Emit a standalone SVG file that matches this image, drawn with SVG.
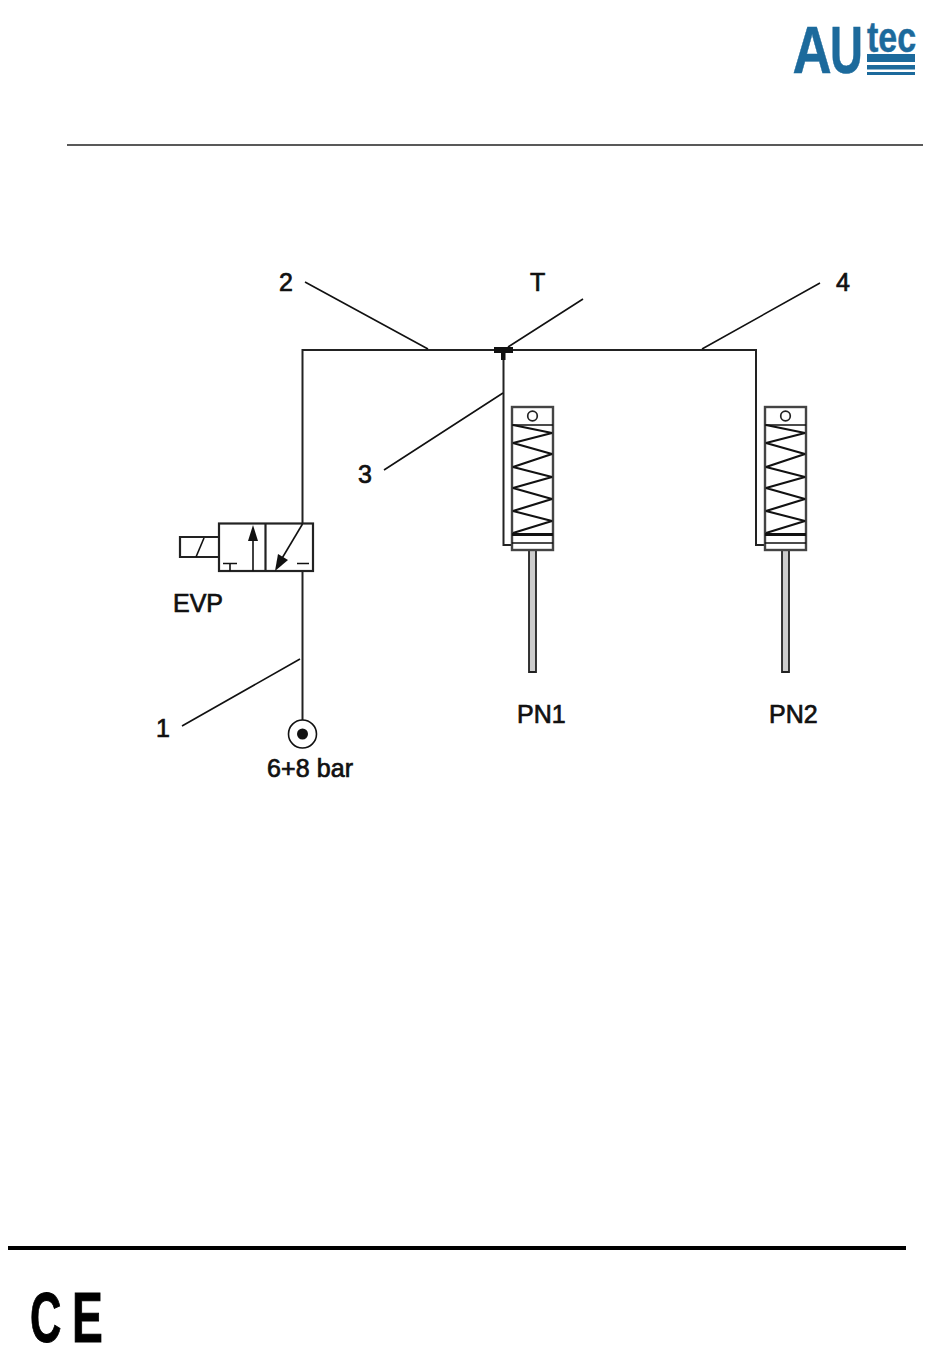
<svg xmlns="http://www.w3.org/2000/svg" width="950" height="1360" viewBox="0 0 950 1360">
<style>
text{font-family:"Liberation Sans",Arial,sans-serif;fill:#111;stroke:#111;stroke-width:.7}
.lbl{font-size:25px}
.logo{font-weight:bold;fill:#1c6a9c;stroke:#1c6a9c;stroke-width:.5}
.ce{font-size:70px;font-weight:bold;fill:#000;stroke:#000;stroke-width:1}
.thin{fill:none;stroke:#111;stroke-width:1.6}
.pipe{fill:none;stroke:#222;stroke-width:2}
.body{fill:none;stroke:#222;stroke-width:2.2}
.spring{fill:none;stroke:#111;stroke-width:2.2;stroke-linejoin:bevel}
.bar{fill:#1c6a9c}
</style>
<defs>
<g id="cyl">
<path d="M17 143V265H24V143" fill="#ccc" stroke="#222" stroke-width="1.800"/>
<rect x="0" y="0" width="41" height="143" fill="#fff" stroke="#444" stroke-width="2.400"/>
<path d="M0 18H41M0 136H41" class="thin"/>
<path d="M0 127.500H41" fill="none" stroke="#111" stroke-width="3"/>
<circle cx="20.500" cy="9" r="4.800" fill="none" stroke="#222" stroke-width="1.700"/>
<path d="M1 18L40 26L1 36L40 47L1 60L40 70L1 81L40 92L1 104L40 114L1 126" class="spring"/>
</g>
</defs>
<g id="header">
<path d="M67 145H923" fill="none" stroke="#222" stroke-width="1.600"/>
</g>
<g id="logo">
<text transform="translate(792.500 73) scale(.81 1)" class="logo" font-size="67">A</text>
<text transform="translate(830 73) scale(.68 1)" class="logo" font-size="67">U</text>
<text transform="translate(867 52) scale(.79 1)" class="logo" font-size="43">tec</text>
<rect x="867" y="54" width="48" height="8" class="bar"/>
<rect x="867" y="65" width="48" height="4.500" class="bar"/>
<rect x="867" y="72" width="48" height="3" class="bar"/>
</g>
<g id="connectors">
<path d="M302.500 523V350H756V545H764" class="pipe"/>
<path d="M503.500 350V545H512" class="pipe"/>
<path d="M302.500 571V722" class="pipe"/>
<path d="M305 282L428 349M583 299L508 347M820 283L702 349M384 470L503 393M182 726L300 659" class="thin"/>
</g>
<g id="tee"><rect x="494" y="347" width="19" height="6" fill="#111"/><rect x="501" y="352" width="4.500" height="8" fill="#111"/></g>
<g id="evp">
<rect x="219" y="523.500" width="94" height="47.500" class="body"/>
<path d="M265.500 523V571" class="body"/>
<path d="M219 537H180V557H219" class="body" stroke-width="1.600"/>
<path d="M196 557L204 538" class="thin" stroke-width="2"/>
<path d="M253 571V538" class="thin" stroke-width="2"/>
<path d="M253 525L258 541H248Z" fill="#111"/>
<path d="M302.500 524L281 560" class="thin" stroke-width="2"/>
<path d="M275 571L278 554L288 560Z" fill="#111"/>
<path d="M223 563.500H237M230 563.500V571M297 563.500H309" class="thin" stroke-width="2"/>
</g>
<g id="pn1"><use href="#cyl" x="512" y="407"/></g>
<g id="pn2"><use href="#cyl" x="765" y="407"/></g>
<g id="source">
<circle cx="302.500" cy="734" r="14" fill="#fff" stroke="#111" stroke-width="1.600"/>
<circle cx="302.500" cy="734" r="5.500" fill="#111"/>
</g>
<g id="labels">
<text x="279" y="291" class="lbl">2</text>
<text x="530" y="291" class="lbl">T</text>
<text x="836" y="291" class="lbl">4</text>
<text x="358" y="483" class="lbl">3</text>
<text x="173" y="612" class="lbl">EVP</text>
<text x="156" y="737" class="lbl">1</text>
<text x="267" y="777" class="lbl" textLength="86">6+8 bar</text>
<text x="517" y="723" class="lbl">PN1</text>
<text x="769" y="723" class="lbl">PN2</text>
</g>
<g id="footer">
<rect x="8" y="1246" width="898" height="4" fill="#000"/>
<text transform="translate(30 1342) scale(.62 1)" class="ce">C</text>
<text transform="translate(72 1342) scale(.66 1)" class="ce">E</text>
</g>
</svg>
